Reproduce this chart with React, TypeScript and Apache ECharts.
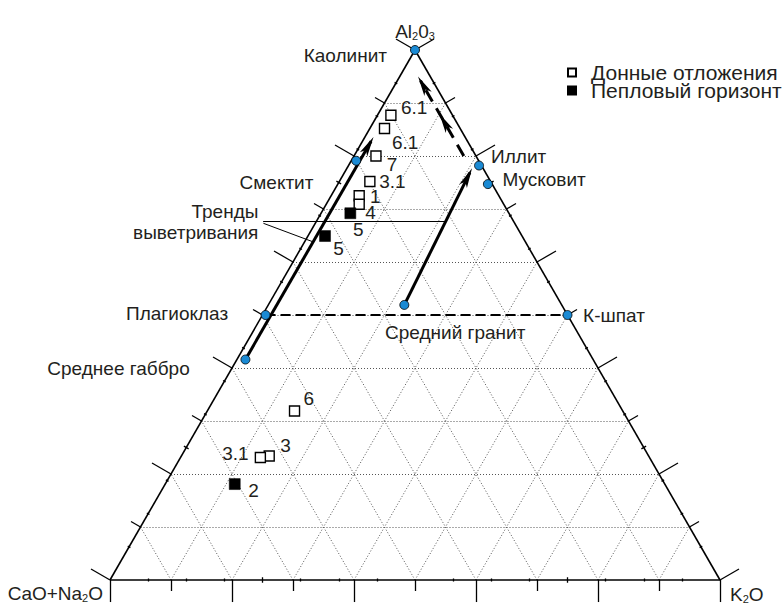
import React, { useEffect, useRef } from "react";
import * as echarts from "echarts";

// ---------- data (percent): A = Al2O3, K = K2O, CaO+Na2O = 100 - A - K ----------
const sedimentLabels = ["6.1", "6.1", "7", "3.1", "1", "5", "6", "3", "3.1"];
const sedimentA = [87.7, 85.2, 80.0, 75.2, 72.5, 70.9, 31.9, 23.4, 23.1];
const sedimentK = [2.2, 2.4, 3.6, 5.0, 4.6, 5.4, 14.3, 14.4, 13.1];

const ashLabels = ["4", "5", "2"];
const ashA = [69.2, 64.9, 18.1];
const ashK = [4.8, 2.8, 11.4];

const mineralLabels = ["Каолинит", "Смектит", "Иллит", "Мусковит", "Плагиоклаз", "К-шпат", "Среднее габбро", "Средний гранит"];
const mineralA = [100, 79.1, 78.2, 74.7, 50, 50, 41.6, 51.9];
const mineralK = [0, 0.8, 21.4, 24.6, 0.5, 50, 1.4, 22.3];

const gridLevels = [10, 20, 30, 40, 50, 60, 70, 80, 90];
const majorTicks = [0, 10, 20, 30, 40, 50, 60, 70, 80, 90, 100];
const minorTicks = [6.25, 12.5, 18.75, 25, 31.25, 37.5, 43.75, 56.25, 62.5, 68.75, 75, 81.25, 87.5, 93.75];

// weathering trends (solid): gabbro -> kaolinite side, granite -> illite
const trendFromA = [41.6, 51.9];
const trendFromK = [1.4, 22.3];
const trendToA = [83.6, 77.7];
const trendToK = [1.4, 20.5];
// illite -> kaolinite (dashed, two arrowheads)
const illiteTrendA = [80, 88, 95];
const illiteTrendK = [18, 10, 3];
// plagioclase - K-feldspar tie line (dashed)
const tieA = [50, 50];
const tieK = [0.5, 50];
// leader lines of the "weathering trends" note
const leaderFromA = [67.6, 67.3];
const leaderFromK = [-8.7, -8.5];
const leaderToA = [67.6, 63.8];
const leaderToK = [21.2, 1.4];
const noteA = 67.5;
const noteK = -8.6;

// ---------- styles / label placement (pixels) ----------
const FONT = '"Liberation Sans", Arial, Helvetica, sans-serif';
const TXT = "#231f20";
const FS = 19;
const sedimentLabelPos: [number, number, string][] = [
  [10, -8, "left"], [7.4, 14, "left"], [10.7, 8.5, "left"], [9.3, 0, "left"], [10.7, 1, "left"],
  [-6.3, 25, "left"], [9, -12.7, "left"], [11, -10, "left"], [-11.7, -4.4, "right"],
];
const ashLabelPos: [number, number, string][] = [[15, -1, "left"], [8.3, 12.3, "left"], [13.6, 6.4, "left"]];
const mineralLabelPos: [number, number, string][] = [
  [-28, 5, "right"], [-42.7, 21.7, "right"], [12, -9, "left"], [14.5, -4.3, "left"],
  [-37.4, -1.7, "right"], [15.6, 0, "left"], [-55.7, 9, "right"], [-19.3, 28, "left"],
];

const H = Math.sqrt(3) / 2;
const tern = (a: number, k: number): [number, number] => [k + a / 2, a * H];
const PX = 6.1; // pixels per unit (approx.)

function lbl(text: string, dx: number, dy: number, align: string, size = FS): any {
  return {
    show: true,
    formatter: text,
    position: "inside",
    offset: [dx, dy],
    align,
    verticalAlign: "middle",
    fontSize: size,
    lineHeight: 21,
    color: TXT,
    opacity: 1,
    fontFamily: FONT,
    textBorderWidth: 0,
    rich: {
      s: { fontSize: 11, lineHeight: 12, verticalAlign: "bottom", color: TXT, fontFamily: FONT },
    },
  };
}

export default function App() {
  const ref = useRef<HTMLDivElement>(null);
  useEffect(() => {
    document.body.style.margin = "0";
    const chart = echarts.init(ref.current!, null, { renderer: "svg" });

    const gridSegs: any[] = [];
    for (const t of gridLevels) {
      gridSegs.push({ coords: [tern(t, 0), tern(t, 100 - t)] });
      gridSegs.push({ coords: [tern(0, t), tern(100 - t, t)] });
      gridSegs.push({ coords: [tern(0, 100 - t), tern(100 - t, 0)] });
    }
    const edgeSegs = [
      { coords: [tern(0, 0), tern(0, 100)] },
      { coords: [tern(0, 0), tern(100, 0)] },
      { coords: [tern(100, 0), tern(0, 100)] },
    ];
    const edges: { p: (t: number) => [number, number]; n: [number, number] }[] = [
      { p: (t) => tern(0, t), n: [0, -1] },
      { p: (t) => tern(t, 0), n: [-H, 0.5] },
      { p: (t) => tern(t, 100 - t), n: [H, 0.5] },
    ];
    const tickSegs: any[] = [];
    for (const e of edges) {
      for (const t of majorTicks) {
        const len = (t / 10) % 2 === 0 ? 3.6 : 1.8;
        const p = e.p(t);
        tickSegs.push({ coords: [p, [p[0] + e.n[0] * len, p[1] + e.n[1] * len]] });
      }
      for (const t of minorTicks) {
        const len = t % 25 === 0 ? 0.9 : 0.5;
        const p = e.p(t);
        tickSegs.push({
          coords: [
            [p[0] - (e.n[0] * len) / 2, p[1] - (e.n[1] * len) / 2],
            [p[0] + (e.n[0] * len) / 2, p[1] + (e.n[1] * len) / 2],
          ],
        });
      }
    }

    const shorten = (from: [number, number], to: [number, number], d: number): [number, number] => {
      const dx = to[0] - from[0], dy = to[1] - from[1];
      const l = Math.hypot(dx, dy);
      return [to[0] - (dx / l) * d, to[1] - (dy / l) * d];
    };
    const trendSegs = trendFromA.map((a, i) => {
      const f = tern(a, trendFromK[i]);
      const t = tern(trendToA[i], trendToK[i]);
      return { coords: [f, shorten(f, t, 0.8)] };
    });
    const ilFrom = tern(illiteTrendA[0], illiteTrendK[0]);
    const ilTo = tern(illiteTrendA[2], illiteTrendK[2]);
    const dashedSegs = [{ coords: [ilFrom, shorten(ilFrom, ilTo, 0.8)] }];
    const tieSegs = [{ coords: [tern(tieA[0], tieK[0]), tern(tieA[1], tieK[1])] }];
    const leaderSegs = leaderFromA.map((a, i) => ({
      coords: [tern(a, leaderFromK[i]), tern(leaderToA[i], leaderToK[i])],
    }));

    const arrows: { tip: [number, number]; from: [number, number] }[] = [
      { tip: tern(trendToA[0], trendToK[0]), from: tern(trendFromA[0], trendFromK[0]) },
      { tip: tern(trendToA[1], trendToK[1]), from: tern(trendFromA[1], trendFromK[1]) },
      { tip: tern(illiteTrendA[1], illiteTrendK[1]), from: tern(illiteTrendA[0], illiteTrendK[0]) },
      { tip: tern(illiteTrendA[2], illiteTrendK[2]), from: tern(illiteTrendA[1], illiteTrendK[1]) },
    ];
    const arrowData = arrows.map(({ tip, from }) => {
      const dx = tip[0] - from[0], dy = tip[1] - from[1];
      const l = Math.hypot(dx, dy);
      const c = [tip[0] - (dx / l) * (10 / PX), tip[1] - (dy / l) * (10 / PX)];
      return { value: c, symbolRotate: (Math.atan2(dy, dx) * 180) / Math.PI - 90 };
    });

    const lineBase = { type: "lines", coordinateSystem: "cartesian2d", polyline: false, silent: true, clip: false, symbol: "none" };

    const option: any = {
      animation: false,
      backgroundColor: "#fff",
      grid: { left: 110, right: 63, top: 50, bottom: 24 },
      xAxis: { type: "value", min: 0, max: 100, show: false },
      yAxis: { type: "value", min: 0, max: 100 * H, show: false },
      legend: {
        data: ["Донные отложения", "Пепловый горизонт"],
        orient: "vertical",
        left: 562,
        top: 57,
        itemWidth: 8,
        itemHeight: 8,
        itemGap: -3,
        selectedMode: false,
        textStyle: { fontSize: 21, lineHeight: 19, color: TXT, fontFamily: FONT, padding: [0, 0, 0, 10] },
      },
      series: [
        { ...lineBase, z: 1, data: gridSegs, lineStyle: { color: "#555", width: 1, type: [1, 2], opacity: 1 } },
        { ...lineBase, z: 2, data: edgeSegs, lineStyle: { color: "#000", width: 1.6, opacity: 1 } },
        { ...lineBase, z: 2, data: tickSegs, lineStyle: { color: "#000", width: 1.3, opacity: 1 } },
        { ...lineBase, z: 3, data: tieSegs, lineStyle: { color: "#000", width: 2, type: [10, 5], opacity: 1 } },
        { ...lineBase, z: 3, data: trendSegs, lineStyle: { color: "#000", width: 3, opacity: 1 } },
        { ...lineBase, z: 3, data: dashedSegs, lineStyle: { color: "#000", width: 3, type: [13, 8], opacity: 1 } },
        { ...lineBase, z: 3, data: leaderSegs, lineStyle: { color: "#000", width: 1, opacity: 1 } },
        {
          type: "scatter",
          z: 4,
          silent: true,
          clip: false,
          symbol: "path://M0,0L6.5,20L0,15L-6.5,20Z",
          symbolSize: [13, 20],
          symbolKeepAspect: true,
          itemStyle: { color: "#000", opacity: 1 },
          data: arrowData,
        },
        {
          type: "scatter",
          name: "Минералы",
          z: 5,
          silent: true,
          clip: false,
          symbol: "circle",
          symbolSize: 9,
          itemStyle: { color: "#1a8ad4", borderColor: "#000", borderWidth: 0.8, opacity: 1 },
          data: mineralLabels.map((n, i) => ({
            value: tern(mineralA[i], mineralK[i]),
            label: lbl(n, mineralLabelPos[i][0], mineralLabelPos[i][1], mineralLabelPos[i][2]),
          })),
        },
        {
          type: "scatter",
          name: "Донные отложения",
          z: 5,
          silent: true,
          clip: false,
          symbol: "rect",
          symbolSize: 10,
          itemStyle: { color: "#fff", borderColor: "#000", borderWidth: 1.4, opacity: 1 },
          data: sedimentLabels.map((n, i) => ({
            value: tern(sedimentA[i], sedimentK[i]),
            label: lbl(n, sedimentLabelPos[i][0], sedimentLabelPos[i][1], sedimentLabelPos[i][2]),
          })),
        },
        {
          type: "scatter",
          name: "Пепловый горизонт",
          z: 5,
          silent: true,
          clip: false,
          symbol: "rect",
          symbolSize: 11,
          itemStyle: { color: "#000", borderColor: "#000", borderWidth: 0.5, opacity: 1 },
          data: ashLabels.map((n, i) => ({
            value: tern(ashA[i], ashK[i]),
            label: lbl(n, ashLabelPos[i][0], ashLabelPos[i][1], ashLabelPos[i][2]),
          })),
        },
        {
          type: "scatter",
          z: 6,
          silent: true,
          clip: false,
          symbol: "circle",
          symbolSize: 1,
          itemStyle: { color: "rgba(0,0,0,0)", opacity: 1 },
          data: [
            { value: tern(100, 0), label: lbl("Al{s|2}0{s|3}", 0, -19, "center") },
            { value: tern(0, 0), label: lbl("CaO+Na{s|2}O", -7, 13, "right") },
            { value: tern(0, 100), label: lbl("K{s|2}O", 10, 14, "left") },
            { value: tern(noteA, noteK), label: lbl("Тренды\nвыветривания", -5, 0, "right") },
          ],
        },
      ],
    };
    chart.setOption(option);
    return () => chart.dispose();
  }, []);
  return <div ref={ref} style={{ width: 783, height: 604 }} />;
}
